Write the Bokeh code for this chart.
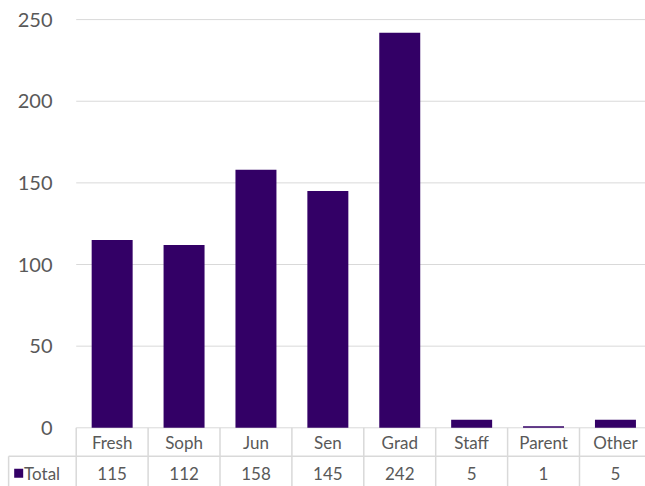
from bokeh.plotting import figure
from bokeh.models import ColumnDataSource, Range1d
from bokeh.core.properties import value
from bokeh.embed import file_html
from bokeh.resources import INLINE

categories = ["Fresh", "Soph", "Jun", "Sen", "Grad", "Staff", "Parent", "Other"]
totals = [115, 112, 158, 145, 242, 5, 1, 5]
y_ticks = [0, 50, 100, 150, 200, 250]
series_name = "Total"

BAR = "#330066"
TEXT = "#595959"
GRID = "#d9d9d9"
FONT = "Lato"

n = len(categories)
y_lo, y_hi = -35.95, 261.7
x_lo, x_hi = -1.053, 7.918
row_sep = -17.4
row1_y = -9.0
row2_y = -27.8
left_edge = -0.94

p = figure(width=645, height=486, x_range=Range1d(x_lo, x_hi), y_range=Range1d(y_lo, y_hi),
           output_backend="svg", toolbar_location=None, min_border=0)
p.axis.visible = False
p.grid.visible = False
p.outline_line_color = None
p.background_fill_color = "white"
p.border_fill_color = "white"

centers = [i + 0.5 for i in range(n)]
src = ColumnDataSource(dict(x=centers, top=totals, cat=categories,
                            lab=[str(v) for v in totals]))

# gridlines
p.segment(x0=[0] * len(y_ticks), x1=[n + 1] * len(y_ticks), y0=y_ticks, y1=y_ticks,
          line_color=GRID, line_width=1)

# bars
p.vbar(x="x", top="top", bottom=0, width=0.57, source=src, fill_color=BAR, line_color=None)

# y tick labels
p.text(x=[-0.33] * len(y_ticks), y=y_ticks, text=[str(t) for t in y_ticks],
       text_font=value(FONT), text_font_size="20px", text_color=TEXT,
       text_align="right", text_baseline="middle")

# data table lines
vx = list(range(n + 1))
p.segment(x0=vx, x1=vx, y0=[0] * len(vx), y1=[y_lo - 5] * len(vx), line_color=GRID, line_width=1.5)
p.segment(x0=[left_edge], x1=[n + 1], y0=[row_sep], y1=[row_sep], line_color=GRID, line_width=1.5)
p.segment(x0=[left_edge], x1=[left_edge], y0=[row_sep], y1=[y_lo - 5], line_color=GRID, line_width=1.5)

# table texts
p.text(x="x", y=row1_y, text="cat", source=src, text_font=value(FONT), text_font_size="17px",
       text_color=TEXT, text_align="center", text_baseline="middle")
p.text(x="x", y=row2_y, text="lab", source=src, text_font=value(FONT), text_font_size="17px",
       text_color=TEXT, text_align="center", text_baseline="middle")

# legend key
p.scatter(x=[-0.80], y=[row2_y], marker="square", size=9, fill_color=BAR, line_color=None)
p.text(x=[-0.725], y=[row2_y], text=[series_name], text_font=value(FONT), text_font_size="17px",
       text_color=TEXT, text_align="left", text_baseline="middle")

open("out.html", "w").write(file_html(p, INLINE))
